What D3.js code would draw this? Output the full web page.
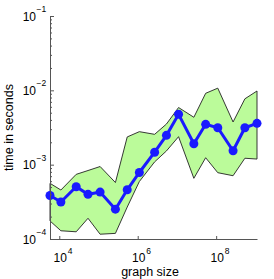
<!DOCTYPE html>
<html>
<head>
<meta charset="utf-8">
<script src="https://cdn.jsdelivr.net/npm/d3@7"></script>
<style>
  body { margin: 0; background: #fff; }
  svg { display: block; font-family: "Liberation Sans", Arial, sans-serif; }
</style>
</head>
<body>
<svg id="chart"></svg>
<script>
// graph size (x) and timings (y)
var sizes = [5.8e3, 1.1e4, 2.7e4, 5.4e4, 1.1e5, 2.7e5, 5.4e5, 1.1e6, 2.7e6,
             5.4e6, 1.1e7, 2.7e7, 5.4e7, 1.1e8, 2.7e8, 5.4e8, 1.1e9];
var meanTime = [3.85e-4, 3.15e-4, 5.05e-4, 3.99e-4, 4.28e-4, 2.52e-4, 4.59e-4, 7.85e-4, 1.47e-3,
                2.48e-3, 4.76e-3, 1.91e-3, 3.49e-3, 3.14e-3, 1.54e-3, 3.14e-3, 3.60e-3];
var upperTime = [5.61e-4, 4.56e-4, 7.41e-4, 8.34e-4, 9.44e-4, 5.75e-4, 2.36e-3, 2.78e-3, 2.56e-3,
                 3.52e-3, 5.87e-3, 4.34e-3, 9.12e-3, 1.07e-2, 3.75e-3, 7.69e-3, 9.80e-3];
var lowerTime = [1.75e-4, 1.29e-4, 1.25e-4, 1.90e-4, 1.16e-4, 1.19e-4, 2.69e-4, 5.93e-4, 1.09e-3,
                 1.53e-3, 2.38e-3, 6.55e-4, 1.24e-3, 7.80e-4, 7.10e-4, 1.22e-3, 1.19e-3];
var xTicks = [1e4, 1e6, 1e8];
var yTicks = [1e-4, 1e-3, 1e-2, 1e-1];

var width = 274, height = 279;
var margin = {top: 16, right: 17, bottom: 40, left: 50};

var svg = d3.select("#chart").attr("width", width).attr("height", height);

var x = d3.scaleLog()
	.domain(d3.extent(sizes))
	.range([margin.left, width - margin.right]);
var y = d3.scaleLog()
	.domain([1e-4, 1e-1])
	.range([height - margin.bottom, margin.top]);

var rows = sizes.map(function (s, i) {
	return {x: s, m: meanTime[i], lo: lowerTime[i], hi: upperTime[i]};
});

// band between lower and upper
var area = d3.area()
	.x(d => x(d.x))
	.y0(d => y(d.lo))
	.y1(d => y(d.hi));

svg.append("path")
	.datum(rows)
	.attr("d", d => area(d) + "")
	.attr("fill", "#bbfb9a")
	.attr("stroke", "#222")
	.attr("stroke-width", 0.9)
	.attr("stroke-linejoin", "miter");

// mean line
svg.append("path")
	.datum(rows)
	.attr("d", d3.line().x(d => x(d.x)).y(d => y(d.m)))
	.attr("fill", "none")
	.attr("stroke", "#1a1aff")
	.attr("stroke-width", 3);

svg.selectAll("circle.pt")
	.data(rows)
	.enter()
	.append("circle")
	.attr("class", "pt")
	.attr("cx", d => x(d.x))
	.attr("cy", d => y(d.m))
	.attr("r", 4.5)
	.attr("fill", "#1a1aff");

// axes
var axisColor = "#555";

var yMinor = y.ticks().filter(v => yTicks.indexOf(v) < 0);
var gyMinor = svg.append("g")
	.attr("transform", "translate(" + margin.left + ",0)")
	.call(d3.axisLeft(y).tickValues(yMinor).tickSize(-2).tickFormat(""));
gyMinor.select(".domain").remove();

var gy = svg.append("g")
	.attr("transform", "translate(" + margin.left + ",0)")
	.call(d3.axisLeft(y).tickValues(yTicks).tickSizeInner(-4).tickSizeOuter(0).tickFormat(""));

var gx = svg.append("g")
	.attr("transform", "translate(0," + (height - margin.bottom) + ")")
	.call(d3.axisBottom(x).tickValues(xTicks).tickSizeInner(-3).tickSizeOuter(0).tickFormat(""));

svg.selectAll(".domain, .tick line").attr("stroke", axisColor);

// tick labels with superscripts
var yLab = svg.selectAll("text.ylab")
	.data(yTicks)
	.enter()
	.append("text")
	.attr("class", "ylab")
	.attr("x", 36)
	.attr("y", d => y(d) + 4.5)
	.attr("text-anchor", "end")
	.attr("font-size", "12px")
	.attr("fill", "#000")
	.text("10");
svg.selectAll("text.ysup")
	.data(yTicks)
	.enter()
	.append("text")
	.attr("class", "ysup")
	.attr("x", 36.5)
	.attr("y", d => y(d) - 4)
	.attr("font-size", "8.5px")
	.attr("fill", "#000")
	.text(d => "\u2212" + Math.round(-Math.log10(d)));

svg.selectAll("text.xlab")
	.data(xTicks)
	.enter()
	.append("text")
	.attr("class", "xlab")
	.attr("x", d => x(d) + 1)
	.attr("y", height - margin.bottom + 23)
	.attr("text-anchor", "middle")
	.attr("font-size", "12px")
	.attr("fill", "#000")
	.text("10");
svg.selectAll("text.xsup")
	.data(xTicks)
	.enter()
	.append("text")
	.attr("class", "xsup")
	.attr("x", d => x(d) + 8.5)
	.attr("y", height - margin.bottom + 15)
	.attr("font-size", "8.5px")
	.attr("fill", "#000")
	.text(d => Math.round(Math.log10(d)));

// axis titles
svg.append("text")
	.attr("x", 150)
	.attr("y", 276)
	.attr("text-anchor", "middle")
	.attr("font-size", "12.5px")
	.attr("fill", "#000")
	.text("graph size");

svg.append("text")
	.attr("transform", "translate(13," + (margin.top + height - margin.bottom) / 2 + ") rotate(-90)")
	.attr("text-anchor", "middle")
	.attr("font-size", "12.5px")
	.attr("fill", "#000")
	.text("time in seconds");
</script>
</body>
</html>
